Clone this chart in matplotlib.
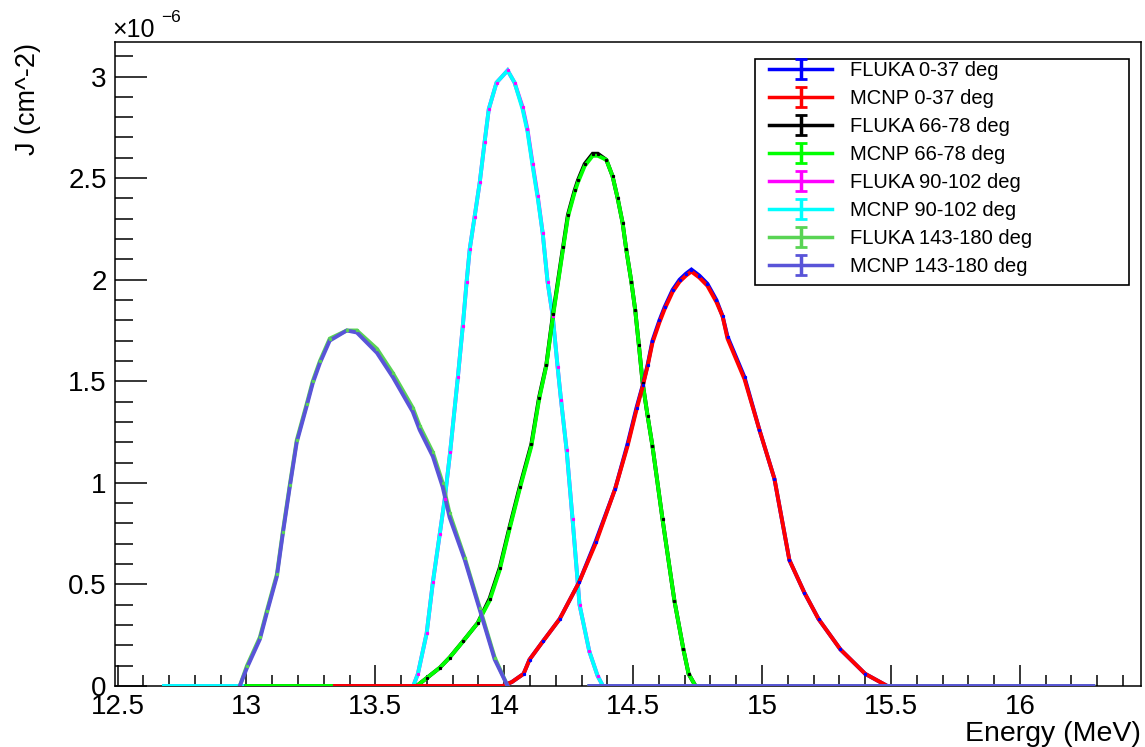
import numpy as np
import matplotlib
matplotlib.use("Agg")
import matplotlib.pyplot as plt
from matplotlib.ticker import MultipleLocator, FuncFormatter
from matplotlib.patches import Rectangle

plt.rcParams['font.family'] = ['Liberation Sans', 'DejaVu Sans']

# ---------------- data (J in units of 1e-6 cm^-2) ----------------
labels = ["FLUKA 0-37 deg", "MCNP 0-37 deg", "FLUKA 66-78 deg", "MCNP 66-78 deg",
          "FLUKA 90-102 deg", "MCNP 90-102 deg", "FLUKA 143-180 deg", "MCNP 143-180 deg"]
colors = ["#0000ff", "#ff0000", "#000000", "#00ff00",
          "#ff00ff", "#00ffff", "#59d454", "#5954d8"]

# 0-37 deg
E_0_37 = [13.343, 13.994, 14.03, 14.075, 14.098, 14.15, 14.215, 14.29, 14.354, 14.43,
          14.478, 14.513, 14.537, 14.556, 14.575, 14.602, 14.622, 14.653, 14.68, 14.705,
          14.726, 14.757, 14.788, 14.823, 14.847, 14.866, 14.932, 14.99, 15.048, 15.106,
          15.164, 15.219, 15.304, 15.40, 15.486]
J_mcnp_0_37 = [0, 0, 0.02, 0.06, 0.13, 0.22, 0.33, 0.51, 0.70, 0.97,
               1.18, 1.36, 1.475, 1.575, 1.69, 1.79, 1.855, 1.94, 1.99, 2.02,
               2.04, 2.01, 1.97, 1.89, 1.82, 1.71, 1.51, 1.26, 1.02, 0.62,
               0.46, 0.33, 0.18, 0.06, 0]
J_fluka_0_37 = [0, 0, 0.02, 0.06, 0.13, 0.22, 0.33, 0.51, 0.71, 0.97,
                1.19, 1.37, 1.48, 1.58, 1.70, 1.80, 1.865, 1.95, 2.00, 2.03,
                2.05, 2.02, 1.98, 1.90, 1.82, 1.72, 1.52, 1.26, 1.02, 0.62,
                0.46, 0.33, 0.18, 0.06, 0]

# 66-78 deg
E_66_78 = [13.0, 13.66, 13.70, 13.75, 13.788, 13.84, 13.897, 13.943, 13.982, 14.02,
           14.06, 14.105, 14.135, 14.163, 14.189, 14.228, 14.247, 14.273, 14.286, 14.312,
           14.343, 14.363, 14.396, 14.42, 14.44, 14.459, 14.473, 14.493, 14.508, 14.522,
           14.537, 14.556, 14.575, 14.614, 14.66, 14.695, 14.715, 14.742]
J_mcnp_66_78 = [0, 0, 0.04, 0.09, 0.14, 0.22, 0.31, 0.42, 0.57, 0.77,
                0.97, 1.18, 1.41, 1.575, 1.82, 2.15, 2.31, 2.43, 2.48, 2.56,
                2.61, 2.61, 2.59, 2.51, 2.40, 2.28, 2.15, 1.99, 1.85, 1.68,
                1.49, 1.33, 1.18, 0.82, 0.42, 0.18, 0.06, 0]
J_fluka_66_78 = [0, 0, 0.04, 0.09, 0.14, 0.22, 0.31, 0.43, 0.58, 0.78,
                 0.98, 1.19, 1.42, 1.58, 1.83, 2.16, 2.32, 2.44, 2.49, 2.57,
                 2.62, 2.62, 2.59, 2.51, 2.40, 2.28, 2.15, 1.99, 1.85, 1.68,
                 1.49, 1.33, 1.18, 0.82, 0.42, 0.18, 0.06, 0]

# 90-102 deg
E_90_102 = [12.68, 13.647, 13.665, 13.699, 13.723, 13.75, 13.769, 13.79, 13.82, 13.839,
            13.854, 13.866, 13.885, 13.905, 13.924, 13.94, 13.97, 14.013, 14.04, 14.071,
            14.09, 14.11, 14.13, 14.149, 14.168, 14.188, 14.207, 14.22, 14.242, 14.265,
            14.292, 14.33, 14.362, 14.383]
J_mcnp_90_102 = [0, 0, 0.06, 0.26, 0.51, 0.75, 0.92, 1.15, 1.52, 1.77,
                 1.99, 2.15, 2.31, 2.48, 2.68, 2.84, 2.97, 3.03, 2.97, 2.84,
                 2.73, 2.56, 2.40, 2.23, 1.99, 1.82, 1.57, 1.41, 1.16, 0.82,
                 0.40, 0.17, 0.05, 0]
J_fluka_90_102 = [0, 0, 0.06, 0.26, 0.51, 0.75, 0.92, 1.15, 1.52, 1.77,
                  1.99, 2.15, 2.31, 2.48, 2.68, 2.84, 2.97, 3.03, 2.97, 2.85,
                  2.74, 2.57, 2.41, 2.23, 1.99, 1.82, 1.57, 1.41, 1.16, 0.82,
                  0.40, 0.17, 0.05, 0]

# 143-180 deg (gap in the drawn line between 14.01 and 14.33 MeV)
E_143_180 = [12.974, 13.002, 13.052, 13.079, 13.118, 13.141, 13.168, 13.195, 13.234, 13.257,
             13.285, 13.323, 13.389, 13.428, 13.506, 13.568, 13.645, 13.672, 13.723, 13.761,
             13.788, 13.847, 13.905, 13.963, 14.013, np.nan, 14.33, 16.285]
J_mcnp_143_180 = [0, 0.09, 0.23, 0.36, 0.54, 0.75, 0.98, 1.20, 1.38, 1.49,
                  1.59, 1.70, 1.75, 1.74, 1.64, 1.52, 1.35, 1.26, 1.13, 0.98,
                  0.83, 0.62, 0.375, 0.13, 0, np.nan, 0, 0]
J_fluka_143_180 = [0, 0.10, 0.24, 0.37, 0.55, 0.76, 0.99, 1.21, 1.39, 1.50,
                   1.60, 1.71, 1.75, 1.75, 1.66, 1.54, 1.37, 1.28, 1.15, 1.00,
                   0.85, 0.63, 0.385, 0.14, 0, np.nan, 0, 0]

# drawing order (bottom to top): (energies, values, legend index)
series = [
    (E_90_102, J_fluka_90_102, 4), (E_90_102, J_mcnp_90_102, 5),
    (E_66_78, J_fluka_66_78, 2), (E_66_78, J_mcnp_66_78, 3),
    (E_0_37, J_fluka_0_37, 0), (E_0_37, J_mcnp_0_37, 1),
    (E_143_180, J_fluka_143_180, 6), (E_143_180, J_mcnp_143_180, 7),
]

x_major = [12.5, 13, 13.5, 14, 14.5, 15, 15.5, 16]
y_major = [0, 0.5, 1, 1.5, 2, 2.5, 3]

# ---------------- figure ----------------
W, H = 1145, 747
fig = plt.figure(figsize=(W / 100, H / 100), dpi=100)
L, R, T, B = 115, 1141, 42, 686
ax = fig.add_axes([L / W, 1 - B / H, (R - L) / W, (B - T) / H])

lw = 2.8
for i, (E, J, ci) in enumerate(series):
    ax.plot(E, J, color=colors[ci], lw=lw, solid_joinstyle='miter', zorder=2 + i)

# small FLUKA markers poking through
for E, J, ci in series:
    if labels[ci].startswith("FLUKA"):
        Ea = np.array(E, dtype=float)
        Ja = np.array(J, dtype=float)
        m = Ja > 0.02
        ax.plot(Ea[m], Ja[m], ls='none', marker='s', ms=1.3, color=colors[ci], zorder=20)

ax.set_xlim(12.49, 16.47)
ax.set_ylim(0, 3.17)

ax.set_xticks(x_major)
ax.set_yticks(y_major)
ax.xaxis.set_minor_locator(MultipleLocator(0.1))
ax.yaxis.set_minor_locator(MultipleLocator(0.1))
fmt = FuncFormatter(lambda v, p: "%g" % v)
ax.xaxis.set_major_formatter(fmt)
ax.yaxis.set_major_formatter(fmt)

ax.tick_params(axis='both', which='both', direction='in', width=1.1, colors='black',
               top=False, right=False, labelsize=20)
ax.tick_params(axis='x', which='major', length=15, pad=6)
ax.tick_params(axis='x', which='minor', length=8)
ax.tick_params(axis='y', which='major', length=23, pad=6)
ax.tick_params(axis='y', which='minor', length=13)
for s in ax.spines.values():
    s.set_linewidth(1.1)

# axis titles
fig.text(R / W, 1 - 721 / H, "Energy (MeV)", ha='right', va='top', fontsize=20.5)
fig.text(28 / W, 1 - 43 / H, "J (cm^-2)", ha='center', va='top', rotation=90, fontsize=19.5)
fig.text(112 / W, 1 - 37 / H, "\u00d710", ha='left', va='baseline', fontsize=18)
fig.text(161 / W, 1 - 22 / H, "\u22126", ha='left', va='baseline', fontsize=12.5)

# legend with error-bar handles
handles = []
for c in colors:
    h = ax.errorbar([np.nan], [np.nan], yerr=[1], color=c, lw=2.5, capsize=4.5,
                    capthick=2.0, elinewidth=2.5)
    handles.append(h)

frame = Rectangle((755 / W, 1 - 285 / H), (1129 - 755) / W, (285 - 59) / H,
                  transform=fig.transFigure, fill=True, facecolor='white',
                  edgecolor='black', lw=1.2, zorder=29)
fig.add_artist(frame)
leg = fig.legend(handles, labels, loc='upper left',
                 bbox_to_anchor=(769 / W, 1 - 61 / H), bbox_transform=fig.transFigure,
                 fontsize=14.5, frameon=False, handlelength=3.15,
                 handletextpad=0.85, labelspacing=0.45, borderpad=0,
                 borderaxespad=0)
leg.set_zorder(30)

fig.savefig("out.png", dpi=100)
